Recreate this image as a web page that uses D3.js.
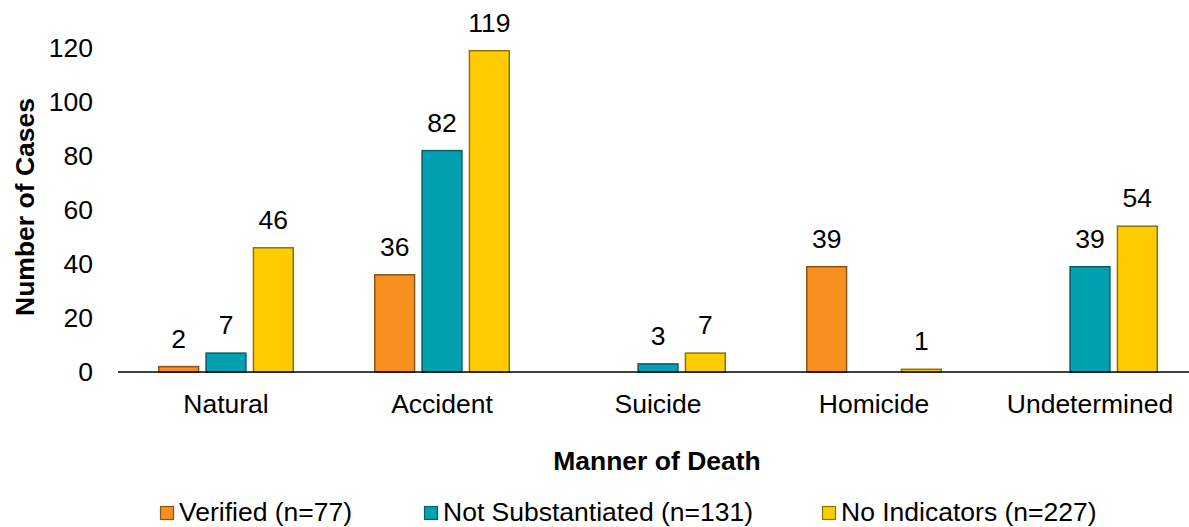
<!DOCTYPE html>
<html>
<head>
<meta charset="utf-8">
<script src="https://cdn.jsdelivr.net/npm/d3@7"></script>
<style>
  body { margin: 0; background: #fff; }
  svg { display: block; font-family: "Liberation Sans", Arial, sans-serif; }
</style>
</head>
<body>
<script>
// Chart data
const categories = ["Natural", "Accident", "Suicide", "Homicide", "Undetermined"];
const seriesNames = ["Verified (n=77)", "Not Substantiated (n=131)", "No Indicators (n=227)"];
const verified = [2, 36, 0, 39, 0];
const notSubstantiated = [7, 82, 3, 0, 39];
const noIndicators = [46, 119, 7, 1, 54];
const yTicks = [0, 20, 40, 60, 80, 100, 120];

const fills = ["#F7901E", "#00A0AE", "#FFCC00"];
const strokes = ["#8A5417", "#0B5E68", "#8C7400"];

const width = 1189, height = 527;
const fontSize = "26.5px";
const allSeries = [verified, notSubstantiated, noIndicators];

const svg = d3.select("body").append("svg")
  .attr("width", width)
  .attr("height", height);

// Scales
let x0 = d3.scaleBand()
  .domain(categories)
  .range([118, 1198]);

let x1 = d3.scaleBand()
  .domain(d3.range(seriesNames.length))
  .range([40, 176])
  .paddingInner(0.127);

let y = d3.scaleLinear()
  .domain([0, 120])
  .range([372, 48]);

// Y tick labels (no axis line, no ticks)
svg.append("g")
  .selectAll("text")
  .data(yTicks)
  .enter().append("text")
  .attr("x", 93)
  .attr("y", d => y(d))
  .attr("dy", "0.35em")
  .attr("text-anchor", "end")
  .style("font-size", fontSize)
  .style("fill", "#000")
  .text(d => d);

// Bars (zero values are not drawn or labelled)
let bars = [];
categories.forEach((cat, i) => {
  allSeries.forEach((s, j) => {
    if (s[i] > 0) bars.push({ cat: cat, series: j, value: s[i] });
  });
});

let groups = svg.append("g");

groups.selectAll("rect")
  .data(bars)
  .enter().append("rect")
  .attr("x", d => x0(d.cat) + x1(d.series) + 0.75)
  .attr("y", d => y(d.value))
  .attr("width", x1.bandwidth() - 1.5)
  .attr("height", d => y(0) - y(d.value))
  .style("fill", d => fills[d.series])
  .style("stroke", d => strokes[d.series])
  .style("stroke-width", 1.5);

groups.selectAll("text")
  .data(bars)
  .enter().append("text")
  .attr("x", d => x0(d.cat) + x1(d.series) + x1.bandwidth() / 2)
  .attr("y", d => y(d.value) - 19)
  .attr("text-anchor", "middle")
  .style("font-size", fontSize)
  .style("fill", "#000")
  .text(d => d.value);

// X axis baseline
svg.append("line")
  .attr("x1", 118)
  .attr("x2", width)
  .attr("y1", y(0))
  .attr("y2", y(0))
  .style("stroke", "#000")
  .style("stroke-width", 1.5);

// Category labels
svg.append("g")
  .selectAll("text")
  .data(categories)
  .enter().append("text")
  .attr("x", d => x0(d) + x0.bandwidth() / 2)
  .attr("y", 413)
  .attr("text-anchor", "middle")
  .style("font-size", fontSize)
  .style("fill", "#000")
  .text(d => d);

// Axis titles
svg.append("text")
  .attr("x", 657)
  .attr("y", 470)
  .attr("text-anchor", "middle")
  .style("font-size", fontSize)
  .style("font-weight", "bold")
  .text("Manner of Death");

svg.append("text")
  .attr("transform", "translate(34,207) rotate(-90)")
  .attr("text-anchor", "middle")
  .style("font-size", fontSize)
  .style("font-weight", "bold")
  .text("Number of Cases");

// Legend
const legendX = [160, 424, 822];
let legend = svg.append("g")
  .selectAll("g")
  .data(seriesNames)
  .enter().append("g")
  .attr("transform", (d, i) => "translate(" + legendX[i] + ",506)");

legend.append("rect")
  .attr("x", 0.5)
  .attr("y", 0.5)
  .attr("width", 13)
  .attr("height", 13)
  .style("fill", (d, i) => fills[i])
  .style("stroke", (d, i) => strokes[i])
  .style("stroke-width", 1.2);

legend.append("text")
  .attr("x", 19)
  .attr("y", 15)
  .style("font-size", fontSize)
  .style("fill", "#000")
  .text(d => d);
</script>
</body>
</html>
